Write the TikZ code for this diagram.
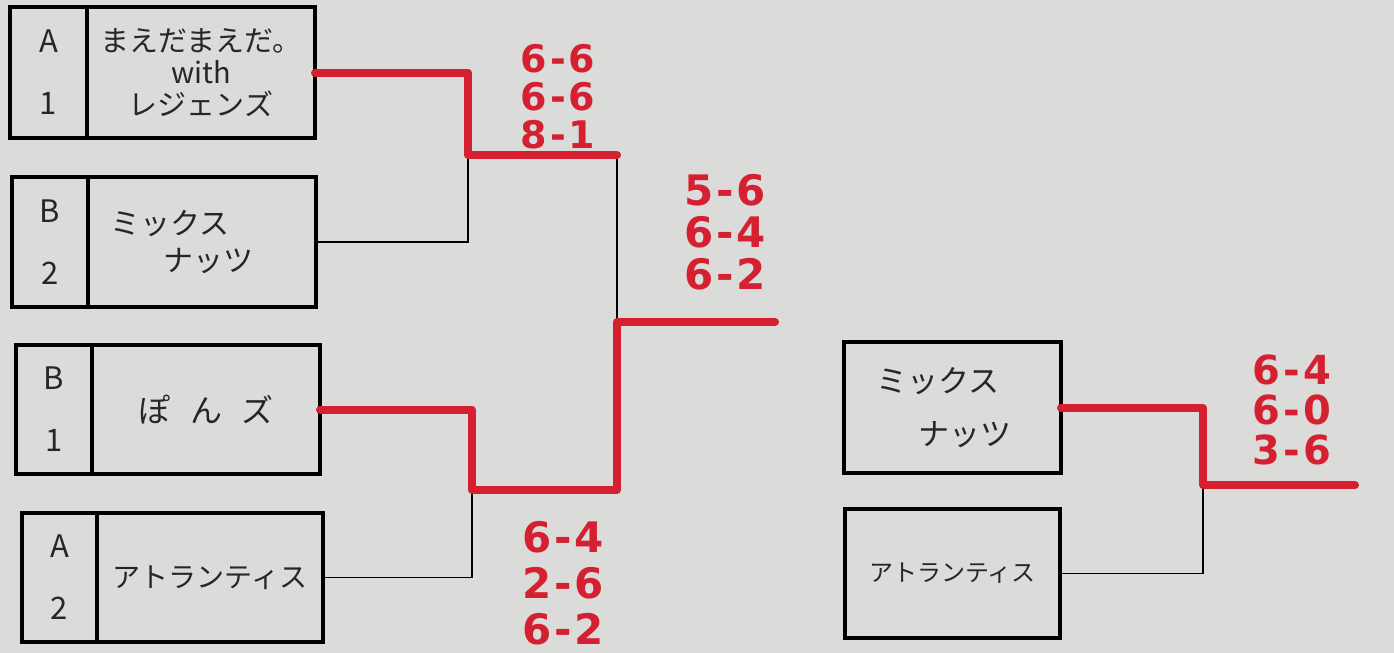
\documentclass[tikz,border=0pt]{standalone}
\usepackage{fontspec}
\setmainfont{Noto Sans CJK JP}
\newfontfamily\scorefont{DejaVu Sans}
\definecolor{paper}{RGB}{219,219,217}
\definecolor{marker}{RGB}{212,32,48}
\newcommand\scoreline[2]{#1\kern1.5pt-\kern1.5pt#2}
\begin{document}
\begin{tikzpicture}[x=0.5pt,y=-0.5pt,
  box/.style={draw=black, line width=1.8pt, fill=paper, inner sep=0pt, outer sep=0pt, anchor=north west, align=center, text=black!85},
  seedbox/.style={box, minimum height=#1, font=\fontsize{15.5}{31}\selectfont},
  namebox/.style={box, minimum height=#1},
  wire/.style={draw=black, line width=0.9pt},
  win/.style={draw=marker, line width=4pt, line cap=round, line join=round},
  score/.style={text=marker, align=center, font=\scorefont\bfseries\fontsize{#1}{#1}\selectfont}]
\fill[paper] (0,0) rectangle (1394,653);
\useasboundingbox (0,0) rectangle (1394,653);
% left side boxes
\node[seedbox=65.5pt, minimum width=38.5pt] (a1s) at (10,7) {A\\1};
\node[namebox=65.5pt, minimum width=114pt, font=\fontsize{14.5}{16}\selectfont] (a1) at (87,7) {まえだまえだ。\\with\\レジェンズ};
\node[seedbox=65pt, minimum width=38pt] (b2s) at (12,177) {B\\2};
\node[namebox=65pt, text width=92pt, inner xsep=11pt, align=left, font=\fontsize{15}{18.5}\selectfont] (b2) at (88,177) {ミックス\\\hspace*{27pt}ナッツ};
\node[seedbox=64.5pt, minimum width=38pt] (b1s) at (16,345) {B\\1};
\node[namebox=64.5pt, minimum width=114pt, font=\fontsize{16}{18}\selectfont] (b1) at (92,345) {ぽ\hspace{0.6em}ん\hspace{0.6em}ズ};
\node[seedbox=64.5pt, minimum width=37.5pt] (a2s) at (22,513) {A\\2};
\node[namebox=64.5pt, minimum width=113pt, font=\fontsize{14}{16}\selectfont] (a2) at (97,513) {アトランティス};
% right side boxes
\node[namebox=65.5pt, text width=76.5pt, inner xsep=16pt, align=left, font=\fontsize{15.5}{26.5}\selectfont] (m) at (844,342) {ミックス\\\hspace*{21pt}ナッツ};
\node[namebox=64.5pt, minimum width=107.5pt, font=\fontsize{12}{14}\selectfont] (at) at (845,509) {アトランティス};
% junctions
\coordinate (j1) at (468,155);
\coordinate (j2) at (472,490);
\coordinate (j3) at (617,322);
\coordinate (f1) at (775,322);
\coordinate (j4) at (1203,485);
\coordinate (f2) at (1355,485);
% black bracket lines
\draw[wire] (a1.east) -| (j1);
\draw[wire] (b2.east) -| (j1);
\draw[wire] (b1.east) -| (j2);
\draw[wire] (a2.east) -| (j2);
\draw[wire] (j1) -| (j3) |- (j2);
\draw[wire] (j3) -- (f1);
\draw[wire] (m.east) -| (j4);
\draw[wire] (at.east) -| (j4);
\draw[wire] (j4) -- (f2);
% red winner lines
\draw[win] (a1.east) -| (j1) -- (j1 -| j3);
\draw[win] (b1.east) -| (j2) -| (j3) -- (f1);
\draw[win] (m.east) -| (j4) -- (f2);
% scores
\node[score=19pt] (s1) at (558,97) {\scoreline{6}{6}\\[0pt]\scoreline{6}{6}\\[0pt]\scoreline{8}{1}};
\node[score=21pt] (s2) at (725,232) {\scoreline{5}{6}\\[0pt]\scoreline{6}{4}\\[0pt]\scoreline{6}{2}};
\node[score=21pt] (s3) at (563,583) {\scoreline{6}{4}\\[2pt]\scoreline{2}{6}\\[2pt]\scoreline{6}{2}};
\node[score=20pt] (s4) at (1292,410) {\scoreline{6}{4}\\[0pt]\scoreline{6}{0}\\[0pt]\scoreline{3}{6}};
\end{tikzpicture}
\end{document}
